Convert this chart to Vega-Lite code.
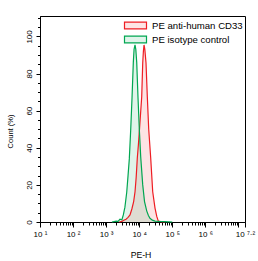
{
  "$schema": "https://vega.github.io/schema/vega-lite/v6.json",
  "width": 205,
  "height": 206,
  "autosize": "none",
  "padding": {"left": 40, "top": 16, "right": 13, "bottom": 39},
  "background": "white",
  "config": {
    "font": "Liberation Sans",
    "view": {"stroke": "#000", "strokeWidth": 1},
    "axis": {"grid": false, "domainColor": "#000", "tickColor": "#000", "labelColor": "#000", "titleColor": "#000", "titleFontWeight": "normal", "labelOverlap": false, "labelFlush": false, "labelBound": false}
  },
  "data": {
    "values": [
      {"sample": "PE anti-human CD33", "pe": 2500, "count": 0},
      {"sample": "PE anti-human CD33", "pe": 3000, "count": 0.3},
      {"sample": "PE anti-human CD33", "pe": 3300, "count": 0.8},
      {"sample": "PE anti-human CD33", "pe": 4000, "count": 1.5},
      {"sample": "PE anti-human CD33", "pe": 4600, "count": 2.5},
      {"sample": "PE anti-human CD33", "pe": 5275, "count": 3.8},
      {"sample": "PE anti-human CD33", "pe": 6000, "count": 7},
      {"sample": "PE anti-human CD33", "pe": 6800, "count": 11},
      {"sample": "PE anti-human CD33", "pe": 7480, "count": 16.3},
      {"sample": "PE anti-human CD33", "pe": 8100, "count": 24},
      {"sample": "PE anti-human CD33", "pe": 8770, "count": 34.5},
      {"sample": "PE anti-human CD33", "pe": 9500, "count": 42},
      {"sample": "PE anti-human CD33", "pe": 10300, "count": 51},
      {"sample": "PE anti-human CD33", "pe": 11920, "count": 67.5},
      {"sample": "PE anti-human CD33", "pe": 12790, "count": 85.7},
      {"sample": "PE anti-human CD33", "pe": 13400, "count": 92},
      {"sample": "PE anti-human CD33", "pe": 14000, "count": 95.4},
      {"sample": "PE anti-human CD33", "pe": 14800, "count": 93},
      {"sample": "PE anti-human CD33", "pe": 16080, "count": 85.7},
      {"sample": "PE anti-human CD33", "pe": 17610, "count": 67.5},
      {"sample": "PE anti-human CD33", "pe": 19410, "count": 50},
      {"sample": "PE anti-human CD33", "pe": 22290, "count": 34.5},
      {"sample": "PE anti-human CD33", "pe": 25630, "count": 16.3},
      {"sample": "PE anti-human CD33", "pe": 30080, "count": 7.5},
      {"sample": "PE anti-human CD33", "pe": 34000, "count": 3},
      {"sample": "PE anti-human CD33", "pe": 37840, "count": 0.5},
      {"sample": "PE anti-human CD33", "pe": 45000, "count": 0.2},
      {"sample": "PE anti-human CD33", "pe": 60000, "count": 0},
      {"sample": "PE isotype control", "pe": 1500, "count": 0},
      {"sample": "PE isotype control", "pe": 2000, "count": 0.5},
      {"sample": "PE isotype control", "pe": 2300, "count": 0.3},
      {"sample": "PE isotype control", "pe": 2630, "count": 1.5},
      {"sample": "PE isotype control", "pe": 3000, "count": 1.2},
      {"sample": "PE isotype control", "pe": 3311, "count": 3.8},
      {"sample": "PE isotype control", "pe": 3700, "count": 8},
      {"sample": "PE isotype control", "pe": 4198, "count": 16},
      {"sample": "PE isotype control", "pe": 4600, "count": 25},
      {"sample": "PE isotype control", "pe": 5027, "count": 34},
      {"sample": "PE isotype control", "pe": 5546, "count": 50},
      {"sample": "PE isotype control", "pe": 6070, "count": 67},
      {"sample": "PE isotype control", "pe": 6643, "count": 86},
      {"sample": "PE isotype control", "pe": 7000, "count": 93},
      {"sample": "PE isotype control", "pe": 7473, "count": 95.4},
      {"sample": "PE isotype control", "pe": 7900, "count": 93},
      {"sample": "PE isotype control", "pe": 8420, "count": 86},
      {"sample": "PE isotype control", "pe": 9210, "count": 67},
      {"sample": "PE isotype control", "pe": 10090, "count": 50},
      {"sample": "PE isotype control", "pe": 11120, "count": 35},
      {"sample": "PE isotype control", "pe": 12790, "count": 20},
      {"sample": "PE isotype control", "pe": 14500, "count": 11},
      {"sample": "PE isotype control", "pe": 16870, "count": 6},
      {"sample": "PE isotype control", "pe": 19000, "count": 3.5},
      {"sample": "PE isotype control", "pe": 21230, "count": 2},
      {"sample": "PE isotype control", "pe": 25000, "count": 1},
      {"sample": "PE isotype control", "pe": 30080, "count": 0.5},
      {"sample": "PE isotype control", "pe": 40000, "count": 0.3},
      {"sample": "PE isotype control", "pe": 60000, "count": 0.2},
      {"sample": "PE isotype control", "pe": 100000, "count": 0}
    ]
  },
  "mark": {"type": "area", "fillOpacity": 0.12, "line": {"strokeWidth": 1.2}, "interpolate": "linear"},
  "encoding": {
    "x": {
      "field": "pe", "type": "quantitative",
      "scale": {"type": "log", "domain": [10, 15848932], "nice": false},
      "axis": {
        "title": "PE-H", "titleFontSize": 8.7, "titleBaseline": "middle", "titleX": 100.5, "titleY": 32,
        "values": [10,20,30,40,50,60,70,80,90,100,200,300,400,500,600,700,800,900,1000,2000,3000,4000,5000,6000,7000,8000,9000,10000,20000,30000,40000,50000,60000,70000,80000,90000,100000,200000,300000,400000,500000,600000,700000,800000,900000,1000000,2000000,3000000,4000000,5000000,6000000,7000000,8000000,9000000,10000000,15848932],
        "labelExpr": "datum.value > 1.5e7 ? '10 ⁷·²' : (abs(log(datum.value)/LN10 - round(log(datum.value)/LN10)) < 0.001 && datum.value < 5e6 ? '10 ' + ['⁰','¹','²','³','⁴','⁵','⁶'][round(log(datum.value)/LN10)] : '')",
        "labelFontSize": 8, "labelPadding": 3,
        "tickSize": {"condition": {"test": "abs(log(datum.value)/LN10 - round(log(datum.value)/LN10)) < 0.001 || datum.value > 1.5e7", "value": 5}, "value": 3}
      }
    },
    "y": {
      "field": "count", "type": "quantitative", "stack": null,
      "scale": {"domain": [0, 111], "nice": false},
      "axis": {
        "title": "Count (%)", "titleFontSize": 7.5, "titleX": -30, "titleY": 115, "titleBaseline": "middle",
        "values": [0,5,10,15,20,25,30,35,40,45,50,55,60,65,70,75,80,85,90,95,100,105,110],
        "labelExpr": "datum.value % 20 === 0 ? datum.label : ''",
        "labelAngle": -90, "labelFontSize": 8, "labelPadding": 3,
        "tickSize": {"condition": {"test": "datum.value % 20 === 0", "value": 4}, "value": 2.5}
      }
    },
    "color": {
      "field": "sample", "type": "nominal",
      "scale": {"domain": ["PE anti-human CD33", "PE isotype control"], "range": ["#ee1d23", "#00a651"]},
      "legend": {
        "title": null, "orient": "top-right", "offset": 2, "padding": 0, "rowPadding": 0,
        "symbolType": "M-1.6,-0.5H1.6V0.5H-1.6Z", "symbolSize": 189, "symbolStrokeWidth": 1.2,
        "labelFontSize": 9.6, "labelColor": "#000", "labelOffset": 9,
        "encode": {"symbols": {"update": {"fill": {"scale": "color", "field": "value"}, "fillOpacity": {"value": 0.12}, "stroke": {"scale": "color", "field": "value"}, "strokeOpacity": {"value": 1}, "opacity": {"value": 1}}}}
      }
    }
  }
}
